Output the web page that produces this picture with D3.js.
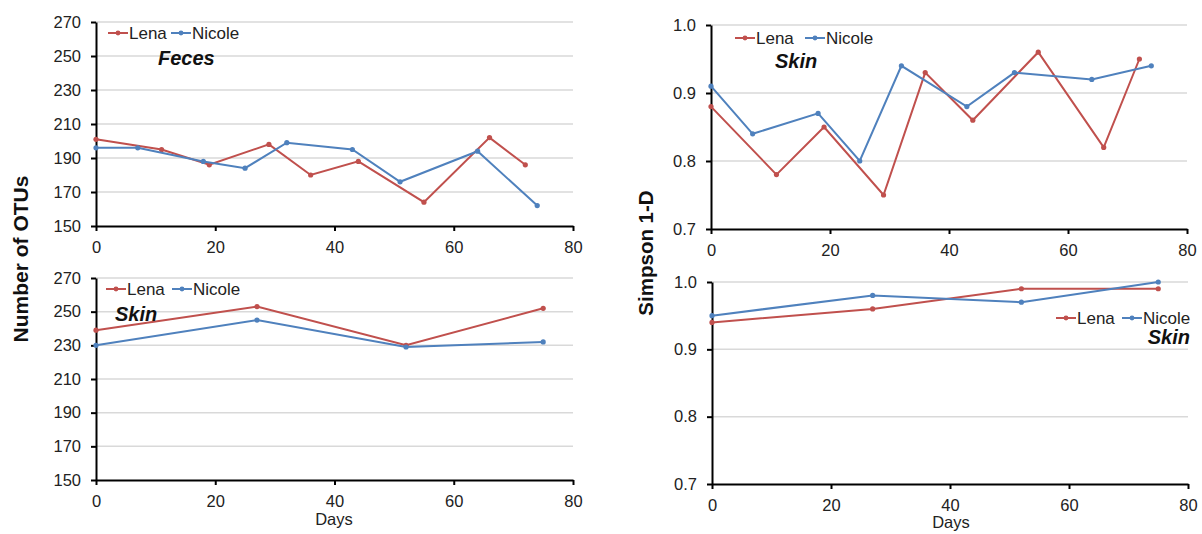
<!DOCTYPE html>
<html>
<head>
<meta charset="utf-8">
<script src="https://cdn.jsdelivr.net/npm/d3@7"></script>
<style>
  body { margin: 0; background: #fff; }
  svg { display: block; font-family: "Liberation Sans", Arial, sans-serif; }
</style>
</head>
<body>
<div id="chart"></div>
<script>
// days sampled
var fecesDaysLena = [0, 11, 19, 29, 36, 44, 55, 66, 72];
var fecesDaysNicole = [0, 7, 18, 25, 32, 43, 51, 64, 74];
var skinDays = [0, 27, 52, 75];

// number of OTUs
var fecesOtusLena = [201, 195, 186, 198, 180, 188, 164, 202, 186];
var fecesOtusNicole = [196, 196, 188, 184, 199, 195, 176, 194, 162];
var skinOtusLena = [239, 253, 230, 252];
var skinOtusNicole = [230, 245, 229, 232];

// simpson 1-D
var simpsonTopLena = [0.88, 0.78, 0.85, 0.75, 0.93, 0.86, 0.96, 0.82, 0.95];
var simpsonTopNicole = [0.91, 0.84, 0.87, 0.80, 0.94, 0.88, 0.93, 0.92, 0.94];
var simpsonBottomLena = [0.94, 0.96, 0.99, 0.99];
var simpsonBottomNicole = [0.95, 0.98, 0.97, 1.0];

var otuTicks = [150, 170, 190, 210, 230, 250, 270];
var simpsonTicks = [0.7, 0.8, 0.9, 1.0];
var dayTicks = [0, 20, 40, 60, 80];
var seriesNames = ["Lena", "Nicole"];
var colors = ["#c0504d", "#4f81bd"];

var w = 1202;
var h = 534;

var svg = d3.select("#chart").append("svg").attr("width", w).attr("height", h);
svg.append("rect").attr("width", w).attr("height", h).attr("fill", "#fff");

function zip(xs, ys) {
    return xs.map(function (x, i) { return [x, ys[i]]; });
}

var panels = [
    {x0: 96, x1: 573, y0: 226, y1: 22, domain: [150, 270], ticks: otuTicks, fmt: d3.format("d"),
     series: [zip(fecesDaysLena, fecesOtusLena), zip(fecesDaysNicole, fecesOtusNicole)],
     legend: {x: 108, y: 33, gap: 63}, title: {text: "Feces", x: 158, y: 65, anchor: "start"}},
    {x0: 96, x1: 573, y0: 480, y1: 278, domain: [150, 270], ticks: otuTicks, fmt: d3.format("d"),
     series: [zip(skinDays, skinOtusLena), zip(skinDays, skinOtusNicole)],
     legend: {x: 106, y: 289, gap: 66}, title: {text: "Skin", x: 115, y: 321, anchor: "start"}},
    {x0: 711, x1: 1187, y0: 229, y1: 25, domain: [0.7, 1.0], ticks: simpsonTicks, fmt: d3.format(".1f"),
     series: [zip(fecesDaysLena, simpsonTopLena), zip(fecesDaysNicole, simpsonTopNicole)],
     legend: {x: 735, y: 38, gap: 70}, title: {text: "Skin", x: 775, y: 68, anchor: "start"}},
    {x0: 712, x1: 1188, y0: 484, y1: 282, domain: [0.7, 1.0], ticks: simpsonTicks, fmt: d3.format(".1f"),
     series: [zip(skinDays, simpsonBottomLena), zip(skinDays, simpsonBottomNicole)],
     legend: {x: 1056, y: 318, gap: 66}, title: {text: "Skin", x: 1190, y: 344, anchor: "end"}}
];

panels.forEach(function (p) {
    var xScale = d3.scaleLinear().domain([0, 80]).range([p.x0, p.x1]);
    var yScale = d3.scaleLinear().domain(p.domain).range([p.y0, p.y1]);
    var g = svg.append("g");

    // gridlines
    g.selectAll("line.grid")
        .data(p.ticks.slice(1))
        .enter()
        .append("line")
        .attr("class", "grid")
        .attr("x1", p.x0)
        .attr("x2", p.x1)
        .attr("y1", function (d) { return yScale(d); })
        .attr("y2", function (d) { return yScale(d); })
        .attr("stroke", "#d9d9d9")
        .attr("stroke-width", 1.5);

    var xAxis = d3.axisBottom(xScale).tickValues(dayTicks).tickSize(5).tickSizeOuter(0).tickPadding(10);
    var yAxis = d3.axisLeft(yScale).tickValues(p.ticks).tickFormat(p.fmt).tickSize(5).tickSizeOuter(0).tickPadding(10);

    var ax = g.append("g").attr("transform", "translate(0," + p.y0 + ")").call(xAxis);
    var ay = g.append("g").attr("transform", "translate(" + p.x0 + ",0)").call(yAxis);
    [ax, ay].forEach(function (a) {
        a.selectAll("path, line").attr("stroke", "#000").attr("stroke-width", 2);
        a.selectAll("text").attr("font-size", "16.5px").attr("fill", "#222")
            .attr("font-family", "'Liberation Sans', Arial, sans-serif");
    });

    var line = d3.line()
        .x(function (d) { return xScale(d[0]); })
        .y(function (d) { return yScale(d[1]); });

    p.series.forEach(function (s, i) {
        g.append("path")
            .datum(s)
            .attr("d", line)
            .attr("fill", "none")
            .attr("stroke", colors[i])
            .attr("stroke-width", 2);
        g.selectAll("circle.s" + i)
            .data(s)
            .enter()
            .append("circle")
            .attr("class", "s" + i)
            .attr("cx", function (d) { return xScale(d[0]); })
            .attr("cy", function (d) { return yScale(d[1]); })
            .attr("r", 2.6)
            .attr("fill", colors[i]);
    });

    // legend
    var leg = g.selectAll("g.legend")
        .data(seriesNames)
        .enter()
        .append("g")
        .attr("class", "legend")
        .attr("transform", function (d, i) {
            return "translate(" + (p.legend.x + i * p.legend.gap) + "," + p.legend.y + ")";
        });
    leg.append("line")
        .attr("x1", 0).attr("x2", 20).attr("y1", 0).attr("y2", 0)
        .attr("stroke", function (d, i) { return colors[i]; })
        .attr("stroke-width", 2);
    leg.append("circle")
        .attr("cx", 10).attr("cy", 0).attr("r", 2.4)
        .attr("fill", function (d, i) { return colors[i]; });
    leg.append("text")
        .attr("x", 21)
        .attr("y", 5.5)
        .attr("font-size", "17px")
        .attr("fill", "#222")
        .text(function (d) { return d; });

    g.append("text")
        .attr("x", p.title.x)
        .attr("y", p.title.y)
        .attr("text-anchor", p.title.anchor)
        .attr("font-size", "20px")
        .attr("font-weight", "bold")
        .attr("font-style", "italic")
        .attr("fill", "#111")
        .text(p.title.text);
});

// axis titles
svg.append("text")
    .attr("transform", "translate(28,259) rotate(-90)")
    .attr("text-anchor", "middle")
    .attr("font-size", "21px")
    .attr("font-weight", "bold")
    .attr("fill", "#111")
    .text("Number of OTUs");

svg.append("text")
    .attr("transform", "translate(653,253) rotate(-90)")
    .attr("text-anchor", "middle")
    .attr("font-size", "20.5px")
    .attr("font-weight", "bold")
    .attr("fill", "#111")
    .text("Simpson 1-D");

svg.append("text")
    .attr("x", 334).attr("y", 525)
    .attr("text-anchor", "middle")
    .attr("font-size", "16.5px")
    .attr("fill", "#222")
    .text("Days");

svg.append("text")
    .attr("x", 951).attr("y", 528)
    .attr("text-anchor", "middle")
    .attr("font-size", "16.5px")
    .attr("fill", "#222")
    .text("Days");
</script>
</body>
</html>
